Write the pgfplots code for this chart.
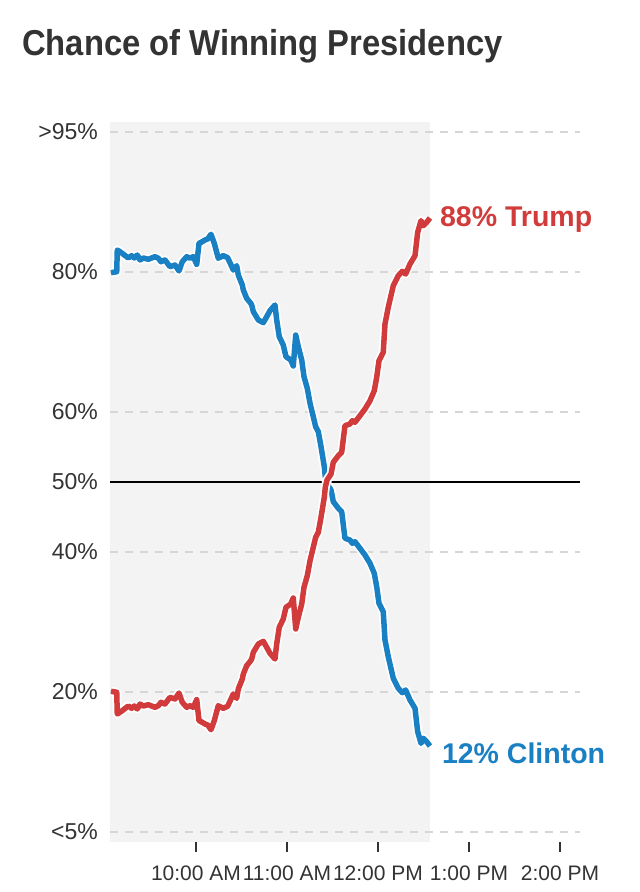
\documentclass[border=0pt]{standalone}
\usepackage{fontspec}
\setmainfont{Liberation Sans}
\newfontfamily\titlefont[FakeStretch=0.91]{Liberation Sans}
\usepackage{pgfplots}
\usepackage{pgfplotstable}
\pgfplotsset{compat=1.18}
\definecolor{cblue}{RGB}{26,128,196}
\definecolor{cred}{RGB}{209,59,59}
\definecolor{shadec}{RGB}{243,243,243}
\definecolor{gridc}{RGB}{214,214,214}
\definecolor{txt}{RGB}{51,51,51}
% piecewise-linear display scale of the chart (5-20: 140 units, 20-80: 7 units per point, 80-95: 140 units)
\newcommand\disp[1]{(min(#1,20)-5)*28/3+(min(max(#1,20),80)-20)*7+(max(#1,80)-80)*28/3}

\pgfplotstableread{
t clinton trump
9.066 79.90 20.10
9.129 80.03 19.97
9.135 82.36 17.64
9.184 82.04 17.96
9.256 81.50 18.50
9.293 81.75 18.25
9.322 81.50 18.50
9.355 81.82 18.18
9.385 81.29 18.71
9.421 81.50 18.50
9.476 81.36 18.64
9.549 81.64 18.36
9.586 81.47 18.53
9.615 81.10 18.90
9.659 81.29 18.71
9.714 80.57 19.43
9.769 80.75 19.25
9.813 80.11 19.89
9.849 81.10 18.90
9.898 81.64 18.36
9.934 81.47 18.53
9.970 81.64 18.36
10.008 80.82 19.18
10.033 83.07 16.93
10.069 83.25 16.75
10.099 83.43 16.57
10.129 83.54 16.46
10.165 84.04 15.96
10.201 83.07 16.93
10.245 81.47 18.53
10.300 81.75 18.25
10.348 81.53 18.47
10.385 80.75 19.25
10.410 80.21 19.79
10.447 80.68 19.32
10.465 79.57 20.43
10.509 78.14 21.86
10.520 77.43 22.57
10.557 76.24 23.76
10.601 75.53 24.47
10.612 75.29 24.71
10.630 74.33 25.67
10.685 73.14 26.86
10.740 72.76 27.24
10.777 73.61 26.39
10.813 74.47 25.53
10.868 75.29 24.71
10.887 73.14 26.86
10.915 70.76 29.24
10.959 69.57 30.43
10.989 67.90 32.10
11.041 67.43 32.57
11.069 66.57 33.43
11.096 71.00 29.00
11.124 69.33 30.67
11.162 67.43 32.57
11.187 65.04 34.96
11.223 63.39 36.61
11.253 61.24 38.76
11.289 59.33 40.67
11.315 57.90 42.10
11.344 57.19 42.81
11.374 55.04 44.96
11.410 52.19 47.81
11.421 50.76 49.24
11.440 49.71 50.29
11.484 48.86 51.14
11.509 47.19 52.81
11.564 46.24 53.76
11.601 45.76 54.24
11.637 41.96 58.04
11.692 41.71 58.29
11.718 41.24 58.76
11.747 41.47 58.53
11.802 40.53 59.47
11.857 39.57 60.43
11.912 38.39 61.61
11.959 36.96 63.04
11.986 35.04 64.96
12.011 32.67 67.33
12.058 31.47 68.53
12.077 27.43 72.57
12.113 25.04 74.96
12.168 21.96 78.04
12.223 20.53 79.47
12.267 19.93 80.07
12.304 20.29 79.71
12.352 19.14 80.86
12.407 18.25 81.75
12.436 15.75 84.25
12.473 14.50 85.50
12.498 15.04 84.96
12.535 14.67 85.33
12.571 14.21 85.79
}\chance

\begin{document}
\begin{tikzpicture}
\node[anchor=base west, font=\titlefont\bfseries\fontsize{36}{40}\selectfont, text=txt, inner sep=0pt] at (-88pt,786pt) {Chance of Winning Presidency};
\begin{axis}[
  at={(0pt,0pt)}, anchor=south west,
  width=470pt, height=720pt, scale only axis,
  set layers, clip=false,
  xmin=9.055, xmax=14.22,
  ymin=-10, ymax=710,
  axis x line=bottom, axis y line=left,
  axis line style={draw=none},
  tick align=outside,
  major tick length=10pt,
  xtick={10,11,12,13,14},
  xticklabels={10:00 AM,11:00 AM,12:00 PM,1:00 PM,2:00 PM},
  ytick={0,140,280,350,420,560,700},
  yticklabels={<5\%,20\%,40\%,50\%,60\%,80\%,>95\%},
  xtick style={draw=txt, line width=1.5pt},
  ytick style={draw=none},
  ymajorgrids,
  grid style={gridc, line width=1.5pt, dash pattern=on 8pt off 7pt},
  xticklabel style={font=\fontsize{21}{24}\selectfont, text=txt, anchor=north, inner sep=0pt, yshift=-14pt},
  yticklabel style={font=\fontsize{23}{26}\selectfont, text=txt, anchor=east, inner sep=0pt, xshift=-2pt},
  no markers,
]
\begin{pgfonlayer}{axis background}
\fill[shadec] (rel axis cs:0,0) rectangle (rel axis cs:0.6809,1);
\end{pgfonlayer}
\addplot[black, line width=1.8pt] coordinates {(9.055,350) (14.22,350)};
\addplot[white, line width=9pt, line join=round] table[x=t, y expr={\disp{\thisrow{clinton}}}] {\chance};
\addplot[cblue, line width=5.5pt, line join=round] table[x=t, y expr={\disp{\thisrow{clinton}}}] {\chance};
\addplot[white, line width=9pt, line join=round] table[x=t, y expr={\disp{\thisrow{trump}}}] {\chance};
\addplot[cred, line width=5.5pt, line join=round] table[x=t, y expr={\disp{\thisrow{trump}}}] {\chance};
\node[anchor=west, inner sep=0pt, text=cred, font=\bfseries\fontsize{28.5}{32}\selectfont] at (rel axis cs:0.702,0.864) {88\% Trump};
\node[anchor=west, inner sep=0pt, text=cblue, font=\bfseries\fontsize{28.5}{32}\selectfont] at (rel axis cs:0.706,0.1236) {12\% Clinton};
\end{axis}
\path (-110pt,-50pt) rectangle (530pt,842pt);
\end{tikzpicture}
\end{document}
